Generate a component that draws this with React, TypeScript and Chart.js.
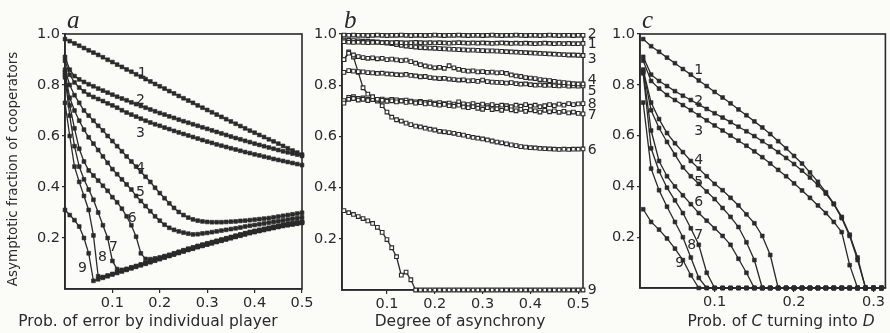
import React, { useEffect, useRef } from "react";
import { Chart, registerables } from "chart.js";
Chart.register(...registerables);

const W = 890;
const H = 333;
const SANS = '"DejaVu Sans", Verdana, sans-serif';
const SERIF = '"Liberation Serif", "DejaVu Serif", serif';
const INK = "#2a2a2a";
const PAPER = "#fbfbf8";

// ---------- Panel a: Prob. of error by individual player ----------
const xA = [0, 0.01, 0.02, 0.03, 0.04, 0.05, 0.06, 0.07, 0.08, 0.09, 0.1, 0.11, 0.12, 0.13, 0.14, 0.15, 0.16, 0.17, 0.18, 0.19, 0.2, 0.21, 0.22, 0.23, 0.24, 0.25, 0.26, 0.27, 0.28, 0.29, 0.3, 0.31, 0.32, 0.33, 0.34, 0.35, 0.36, 0.37, 0.38, 0.39, 0.4, 0.41, 0.42, 0.43, 0.44, 0.45, 0.46, 0.47, 0.48, 0.49, 0.5];
const a1 = [0.98, 0.972, 0.963, 0.954, 0.945, 0.936, 0.927, 0.918, 0.909, 0.899, 0.89, 0.88, 0.871, 0.861, 0.852, 0.842, 0.833, 0.823, 0.814, 0.804, 0.795, 0.786, 0.776, 0.767, 0.757, 0.748, 0.739, 0.73, 0.72, 0.711, 0.702, 0.693, 0.684, 0.675, 0.666, 0.657, 0.648, 0.639, 0.63, 0.621, 0.613, 0.604, 0.596, 0.587, 0.579, 0.57, 0.561, 0.552, 0.543, 0.535, 0.527];
const a2 = [0.91, 0.86, 0.835, 0.822, 0.812, 0.803, 0.795, 0.786, 0.778, 0.77, 0.762, 0.754, 0.747, 0.74, 0.732, 0.725, 0.718, 0.711, 0.704, 0.697, 0.69, 0.684, 0.677, 0.671, 0.664, 0.658, 0.652, 0.646, 0.64, 0.634, 0.628, 0.622, 0.616, 0.61, 0.604, 0.598, 0.592, 0.587, 0.581, 0.576, 0.57, 0.565, 0.56, 0.555, 0.55, 0.545, 0.54, 0.536, 0.531, 0.527, 0.522];
const a3 = [0.895, 0.84, 0.81, 0.79, 0.775, 0.762, 0.753, 0.745, 0.737, 0.728, 0.72, 0.711, 0.701, 0.692, 0.684, 0.676, 0.668, 0.66, 0.653, 0.646, 0.64, 0.633, 0.627, 0.62, 0.614, 0.608, 0.602, 0.596, 0.59, 0.584, 0.578, 0.573, 0.567, 0.562, 0.557, 0.552, 0.547, 0.542, 0.537, 0.533, 0.528, 0.524, 0.519, 0.515, 0.51, 0.506, 0.502, 0.498, 0.494, 0.49, 0.486];
const a4 = [0.86, 0.8, 0.76, 0.73, 0.7, 0.68, 0.66, 0.64, 0.622, 0.6, 0.58, 0.56, 0.54, 0.52, 0.5, 0.48, 0.46, 0.44, 0.42, 0.397, 0.376, 0.356, 0.336, 0.318, 0.302, 0.29, 0.28, 0.273, 0.268, 0.265, 0.263, 0.262, 0.262, 0.262, 0.263, 0.264, 0.265, 0.267, 0.268, 0.27, 0.272, 0.274, 0.276, 0.278, 0.281, 0.284, 0.287, 0.29, 0.293, 0.296, 0.299];
const a5 = [0.85, 0.75, 0.7, 0.66, 0.625, 0.595, 0.57, 0.545, 0.52, 0.495, 0.47, 0.45, 0.43, 0.41, 0.39, 0.365, 0.345, 0.325, 0.305, 0.285, 0.268, 0.252, 0.24, 0.232, 0.226, 0.221, 0.217, 0.214, 0.215, 0.218, 0.22, 0.223, 0.226, 0.229, 0.232, 0.235, 0.238, 0.241, 0.245, 0.248, 0.251, 0.254, 0.257, 0.26, 0.263, 0.266, 0.269, 0.272, 0.275, 0.278, 0.281];
const a6 = [0.84, 0.72, 0.63, 0.55, 0.5, 0.465, 0.445, 0.425, 0.405, 0.385, 0.36, 0.34, 0.315, 0.285, 0.25, 0.205, 0.14, 0.118, 0.117, 0.12, 0.124, 0.129, 0.134, 0.14, 0.146, 0.152, 0.158, 0.163, 0.169, 0.174, 0.179, 0.184, 0.189, 0.194, 0.199, 0.204, 0.209, 0.214, 0.219, 0.224, 0.228, 0.232, 0.236, 0.24, 0.244, 0.248, 0.252, 0.255, 0.258, 0.261, 0.264];
const a7 = [0.83, 0.68, 0.56, 0.48, 0.43, 0.39, 0.35, 0.3, 0.25, 0.2, 0.11, 0.078, 0.075, 0.079, 0.085, 0.09, 0.096, 0.102, 0.108, 0.114, 0.12, 0.126, 0.132, 0.138, 0.144, 0.15, 0.156, 0.161, 0.167, 0.172, 0.177, 0.182, 0.187, 0.192, 0.197, 0.202, 0.207, 0.212, 0.217, 0.222, 0.226, 0.23, 0.234, 0.238, 0.242, 0.246, 0.25, 0.253, 0.256, 0.259, 0.262];
const a8 = [0.73, 0.6, 0.48, 0.42, 0.365, 0.31, 0.21, 0.05, 0.047, 0.053, 0.059, 0.065, 0.071, 0.077, 0.083, 0.089, 0.095, 0.101, 0.107, 0.113, 0.119, 0.125, 0.131, 0.137, 0.143, 0.149, 0.155, 0.16, 0.166, 0.171, 0.176, 0.181, 0.186, 0.191, 0.196, 0.201, 0.206, 0.211, 0.216, 0.221, 0.225, 0.229, 0.233, 0.237, 0.241, 0.245, 0.249, 0.252, 0.255, 0.258, 0.261];
const a9 = [0.31, 0.29, 0.27, 0.245, 0.2, 0.14, 0.032, 0.038, 0.044, 0.05, 0.057, 0.063, 0.069, 0.075, 0.081, 0.087, 0.093, 0.099, 0.105, 0.111, 0.117, 0.123, 0.129, 0.135, 0.141, 0.147, 0.153, 0.158, 0.164, 0.169, 0.174, 0.179, 0.184, 0.189, 0.194, 0.199, 0.204, 0.209, 0.214, 0.219, 0.223, 0.227, 0.231, 0.235, 0.239, 0.243, 0.247, 0.25, 0.253, 0.256, 0.259];
const aTicks = [0.1, 0.2, 0.3, 0.4, 0.5];
const aLabelText = ["1", "2", "3", "4", "5", "6", "7", "8", "9"];
const aLabelX = [0.163, 0.159, 0.159, 0.159, 0.159, 0.142, 0.102, 0.079, 0.037];
const aLabelY = [0.847, 0.741, 0.612, 0.475, 0.38, 0.278, 0.165, 0.125, 0.082];

// ---------- Panel b: Degree of asynchrony ----------
const xB = [0.01, 0.02, 0.03, 0.04, 0.05, 0.06, 0.07, 0.08, 0.09, 0.1, 0.11, 0.12, 0.13, 0.14, 0.15, 0.16, 0.17, 0.18, 0.19, 0.2, 0.21, 0.22, 0.23, 0.24, 0.25, 0.26, 0.27, 0.28, 0.29, 0.3, 0.31, 0.32, 0.33, 0.34, 0.35, 0.36, 0.37, 0.38, 0.39, 0.4, 0.41, 0.42, 0.43, 0.44, 0.45, 0.46, 0.47, 0.48, 0.49, 0.5, 0.51];
const b1 = [0.97, 0.968, 0.967, 0.968, 0.967, 0.966, 0.967, 0.968, 0.966, 0.967, 0.966, 0.967, 0.966, 0.965, 0.966, 0.967, 0.966, 0.965, 0.966, 0.965, 0.966, 0.965, 0.964, 0.965, 0.966, 0.965, 0.964, 0.965, 0.964, 0.965, 0.964, 0.963, 0.964, 0.965, 0.964, 0.963, 0.964, 0.963, 0.964, 0.963, 0.962, 0.963, 0.964, 0.963, 0.962, 0.963, 0.962, 0.963, 0.962, 0.962, 0.963];
const b2 = [0.996, 0.995, 0.996, 0.995, 0.995, 0.994, 0.995, 0.996, 0.995, 0.994, 0.995, 0.995, 0.996, 0.995, 0.994, 0.995, 0.995, 0.994, 0.995, 0.996, 0.995, 0.994, 0.995, 0.995, 0.996, 0.995, 0.994, 0.995, 0.995, 0.994, 0.995, 0.996, 0.995, 0.994, 0.995, 0.995, 0.996, 0.995, 0.994, 0.995, 0.995, 0.994, 0.995, 0.996, 0.995, 0.994, 0.995, 0.995, 0.994, 0.995, 0.995];
const b3 = [0.976, 0.975, 0.974, 0.973, 0.972, 0.972, 0.97, 0.968, 0.966, 0.964, 0.962, 0.959, 0.956, 0.953, 0.951, 0.949, 0.947, 0.946, 0.945, 0.944, 0.943, 0.942, 0.941, 0.94, 0.939, 0.938, 0.937, 0.937, 0.936, 0.935, 0.934, 0.934, 0.933, 0.932, 0.931, 0.93, 0.929, 0.928, 0.927, 0.926, 0.925, 0.924, 0.923, 0.922, 0.921, 0.92, 0.919, 0.918, 0.918, 0.917, 0.916];
const b4 = [0.9, 0.925, 0.918, 0.912, 0.908, 0.905, 0.907, 0.903, 0.905, 0.9, 0.902, 0.899, 0.896, 0.898, 0.892, 0.886, 0.88, 0.875, 0.872, 0.868, 0.87, 0.866, 0.876, 0.868, 0.862, 0.858, 0.855, 0.856, 0.852, 0.853, 0.85, 0.851, 0.848, 0.849, 0.846, 0.84, 0.836, 0.834, 0.83, 0.828, 0.826, 0.822, 0.82, 0.818, 0.815, 0.812, 0.81, 0.808, 0.806, 0.805, 0.805];
const b5 = [0.85, 0.857, 0.855, 0.853, 0.852, 0.849, 0.848, 0.846, 0.847, 0.844, 0.843, 0.841, 0.84, 0.842, 0.838, 0.836, 0.833, 0.834, 0.83, 0.828, 0.826, 0.827, 0.824, 0.822, 0.82, 0.821, 0.817, 0.818, 0.815, 0.82, 0.814, 0.812, 0.811, 0.81, 0.808, 0.81, 0.806, 0.804, 0.805, 0.802, 0.8, 0.801, 0.799, 0.8, 0.798, 0.797, 0.799, 0.796, 0.797, 0.796, 0.797];
const b6 = [0.9, 0.93, 0.91, 0.85, 0.79, 0.765, 0.755, 0.745, 0.72, 0.695, 0.675, 0.665, 0.66, 0.652, 0.646, 0.64, 0.637, 0.632, 0.628, 0.625, 0.62, 0.618, 0.615, 0.612, 0.608, 0.605, 0.6, 0.596, 0.593, 0.59, 0.586, 0.582, 0.578, 0.575, 0.571, 0.567, 0.564, 0.56, 0.558, 0.556, 0.555, 0.553, 0.552, 0.551, 0.55, 0.549, 0.55, 0.549, 0.55, 0.55, 0.551];
const b7 = [0.73, 0.745, 0.748, 0.742, 0.745, 0.74, 0.744, 0.738, 0.741, 0.737, 0.739, 0.735, 0.738, 0.733, 0.735, 0.73, 0.732, 0.727, 0.729, 0.725, 0.722, 0.725, 0.72, 0.718, 0.722, 0.715, 0.712, 0.716, 0.71, 0.706, 0.712, 0.705, 0.708, 0.702, 0.71, 0.704, 0.7, 0.706, 0.698, 0.704, 0.7, 0.695, 0.702, 0.696, 0.7, 0.694, 0.698, 0.692, 0.695, 0.69, 0.688];
const b8 = [0.74, 0.752, 0.755, 0.748, 0.75, 0.745, 0.748, 0.744, 0.746, 0.742, 0.745, 0.743, 0.74, 0.742, 0.738, 0.735, 0.737, 0.733, 0.735, 0.73, 0.732, 0.728, 0.73, 0.726, 0.735, 0.727, 0.724, 0.728, 0.722, 0.726, 0.72, 0.724, 0.718, 0.722, 0.72, 0.716, 0.722, 0.718, 0.724, 0.718, 0.722, 0.716, 0.72, 0.724, 0.72, 0.726, 0.722, 0.728, 0.724, 0.727, 0.728];
const b9 = [0.31, 0.302, 0.295, 0.287, 0.279, 0.27, 0.26, 0.245, 0.225, 0.197, 0.165, 0.13, 0.058, 0.07, 0.04, 0, 0, 0, 0, 0, 0, 0, 0, 0, 0, 0, 0, 0, 0, 0, 0, 0, 0, 0, 0, 0, 0, 0, 0, 0, 0, 0, 0, 0, 0, 0, 0, 0, 0, 0, 0];
const bTicks = [0.1, 0.2, 0.3, 0.4, 0.5];
const bLabelText = ["2", "1", "3", "4", "5", "8", "7", "6", "9"];
const bLabelX = [0.529, 0.529, 0.529, 0.529, 0.529, 0.529, 0.529, 0.529, 0.529];
const bLabelY = [1.0, 0.961, 0.902, 0.82, 0.777, 0.727, 0.684, 0.547, 0.0];

// ---------- Panel c: Prob. of C turning into D ----------
const xC = [0.01, 0.02, 0.03, 0.04, 0.05, 0.06, 0.07, 0.08, 0.09, 0.1, 0.11, 0.12, 0.13, 0.14, 0.15, 0.16, 0.17, 0.18, 0.19, 0.2, 0.21, 0.22, 0.23, 0.24, 0.25, 0.26, 0.27, 0.28, 0.29, 0.3, 0.31];
const c1 = [0.98, 0.952, 0.93, 0.907, 0.885, 0.862, 0.84, 0.817, 0.795, 0.772, 0.75, 0.727, 0.703, 0.68, 0.656, 0.632, 0.606, 0.578, 0.55, 0.52, 0.49, 0.455, 0.418, 0.377, 0.332, 0.28, 0.21, 0.12, 0, 0, 0];
const c2 = [0.91, 0.84, 0.815, 0.795, 0.775, 0.757, 0.74, 0.722, 0.705, 0.688, 0.671, 0.653, 0.635, 0.617, 0.598, 0.578, 0.557, 0.535, 0.512, 0.488, 0.462, 0.435, 0.405, 0.372, 0.33, 0.275, 0.205, 0.11, 0, 0, 0];
const c3 = [0.895, 0.815, 0.785, 0.76, 0.74, 0.72, 0.7, 0.68, 0.66, 0.64, 0.62, 0.6, 0.58, 0.56, 0.538, 0.515, 0.49, 0.465, 0.44, 0.412, 0.384, 0.355, 0.325, 0.295, 0.26, 0.22, 0.09, 0, 0, 0, 0];
const c4 = [0.86, 0.73, 0.665, 0.61, 0.57, 0.535, 0.5, 0.47, 0.44, 0.41, 0.385, 0.355, 0.325, 0.29, 0.255, 0.205, 0.13, 0, 0, 0, 0, 0, 0, 0, 0, 0, 0, 0, 0, 0, 0];
const c5 = [0.855, 0.7, 0.63, 0.575, 0.525, 0.475, 0.44, 0.41, 0.38, 0.35, 0.315, 0.28, 0.24, 0.18, 0.11, 0, 0, 0, 0, 0, 0, 0, 0, 0, 0, 0, 0, 0, 0, 0, 0];
const c6 = [0.85, 0.62, 0.5, 0.44, 0.4, 0.365, 0.33, 0.295, 0.265, 0.235, 0.205, 0.17, 0.115, 0.06, 0, 0, 0, 0, 0, 0, 0, 0, 0, 0, 0, 0, 0, 0, 0, 0, 0];
const c7 = [0.845, 0.55, 0.46, 0.395, 0.345, 0.295, 0.235, 0.17, 0.06, 0, 0, 0, 0, 0, 0, 0, 0, 0, 0, 0, 0, 0, 0, 0, 0, 0, 0, 0, 0, 0, 0];
const c8 = [0.73, 0.47, 0.385, 0.32, 0.26, 0.2, 0.12, 0.04, 0, 0, 0, 0, 0, 0, 0, 0, 0, 0, 0, 0, 0, 0, 0, 0, 0, 0, 0, 0, 0, 0, 0];
const c9 = [0.31, 0.26, 0.23, 0.195, 0.155, 0.11, 0.05, 0, 0, 0, 0, 0, 0, 0, 0, 0, 0, 0, 0, 0, 0, 0, 0, 0, 0, 0, 0, 0, 0, 0, 0];
const cTicks = [0.1, 0.2, 0.3];
const cLabelText = ["1", "2", "3", "4", "5", "6", "7", "8", "9"];
const cLabelX = [0.08, 0.08, 0.08, 0.08, 0.08, 0.08, 0.08, 0.071, 0.056];
const cLabelY = [0.858, 0.736, 0.618, 0.504, 0.417, 0.339, 0.209, 0.169, 0.098];

const yTicks = [0.2, 0.4, 0.6, 0.8, 1.0];

type Part = { t: string; italic?: boolean };
type PanelCfg = {
  left: number;
  width: number;
  area: { l: number; r: number; t: number; b: number };
  xMin: number;
  xMax: number;
  xTicks: number[];
  xs: number[];
  series: number[][];
  hollow: boolean;
  letter: string;
  title: Part[];
  titleX: number;
  yTitle: boolean;
  labelText: string[];
  labelX: number[];
  labelY: number[];
};

const PANELS: PanelCfg[] = [
  {
    left: 0, width: 320, area: { l: 65, r: 302, t: 34, b: 289 },
    xMin: 0, xMax: 0.5, xTicks: aTicks, xs: xA,
    series: [a1, a2, a3, a4, a5, a6, a7, a8, a9], hollow: false, letter: "a",
    title: [{ t: "Prob. of error by individual player" }], titleX: 148, yTitle: true,
    labelText: aLabelText, labelX: aLabelX, labelY: aLabelY,
  },
  {
    left: 305, width: 295, area: { l: 37, r: 278, t: 34, b: 290 },
    xMin: 0.006, xMax: 0.51, xTicks: bTicks, xs: xB,
    series: [b1, b2, b3, b4, b5, b6, b7, b8, b9], hollow: true, letter: "b",
    title: [{ t: "Degree of asynchrony" }], titleX: 155, yTitle: false,
    labelText: bLabelText, labelX: bLabelX, labelY: bLabelY,
  },
  {
    left: 600, width: 290, area: { l: 40, r: 287, t: 34, b: 288 },
    xMin: 0.006, xMax: 0.315, xTicks: cTicks, xs: xC,
    series: [c1, c2, c3, c4, c5, c6, c7, c8, c9], hollow: false, letter: "c",
    title: [{ t: "Prob. of " }, { t: "C", italic: true }, { t: " turning into " }, { t: "D", italic: true }],
    titleX: 181, yTitle: false,
    labelText: cLabelText, labelX: cLabelX, labelY: cLabelY,
  },
];

function drawRich(ctx: CanvasRenderingContext2D, parts: Part[], cx: number, cy: number, size: number) {
  const fontOf = (p: Part) => `${p.italic ? "italic " : ""}${size}px ${SANS}`;
  let total = 0;
  for (const p of parts) {
    ctx.font = fontOf(p);
    total += ctx.measureText(p.t).width;
  }
  let x = cx - total / 2;
  ctx.textAlign = "left";
  ctx.textBaseline = "middle";
  for (const p of parts) {
    ctx.font = fontOf(p);
    ctx.fillText(p.t, x, cy);
    x += ctx.measureText(p.t).width;
  }
}

function Panel({ cfg }: { cfg: PanelCfg }) {
  const ref = useRef<HTMLCanvasElement | null>(null);
  useEffect(() => {
    const canvas = ref.current;
    if (!canvas) return;
    const { area } = cfg;
    const deco = {
      id: "deco",
      beforeDatasetsDraw(chart: any) {
        const { ctx, chartArea: a } = chart;
        ctx.save();
        ctx.strokeStyle = INK;
        ctx.lineWidth = 1.6;
        ctx.strokeRect(a.left, a.top, a.right - a.left, a.bottom - a.top);
        ctx.restore();
      },
      afterDraw(chart: any) {
        const { ctx, chartArea: a, scales } = chart;
        ctx.save();
        ctx.fillStyle = INK;
        ctx.font = `italic 25px ${SERIF}`;
        ctx.textAlign = "left";
        ctx.textBaseline = "alphabetic";
        ctx.fillText(cfg.letter, a.left + 2, 28);
        ctx.font = `14px ${SANS}`;
        ctx.textAlign = "center";
        ctx.textBaseline = "middle";
        cfg.labelText.forEach((t, i) => {
          const px = scales.x.getPixelForValue(cfg.labelX[i]);
          const py = scales.y.getPixelForValue(cfg.labelY[i]);
          ctx.fillText(t, px, py);
        });
        drawRich(ctx, cfg.title, cfg.titleX, 322, 15.5);
        if (cfg.yTitle) {
          ctx.save();
          ctx.translate(13, 169);
          ctx.rotate(-Math.PI / 2);
          ctx.font = `13.5px ${SANS}`;
          ctx.textAlign = "center";
          ctx.textBaseline = "middle";
          ctx.fillText("Asymptotic fraction of cooperators", 0, 0);
          ctx.restore();
        }
        ctx.restore();
      },
    };
    const datasets = cfg.series.map((ys) => ({
      data: ys.map((y, j) => ({ x: cfg.xs[j], y })),
      borderColor: INK,
      borderWidth: 1.3,
      pointStyle: "rect" as const,
      pointRadius: cfg.hollow ? 2.6 : 2.7,
      pointBackgroundColor: cfg.hollow ? PAPER : INK,
      pointBorderColor: INK,
      pointBorderWidth: cfg.hollow ? 1.1 : 0.6,
      tension: 0,
      clip: false as const,
    }));
    const chart = new Chart(canvas, {
      type: "line",
      data: { datasets },
      plugins: [deco],
      options: {
        responsive: false,
        animation: false,
        events: [],
        layout: {
          padding: { left: 0, right: cfg.width - area.r, top: area.t, bottom: H - area.b - 20 },
        },
        plugins: { legend: { display: false }, tooltip: { enabled: false } },
        scales: {
          x: {
            type: "linear",
            min: cfg.xMin,
            max: cfg.xMax,
            afterBuildTicks: (s: any) => {
              s.ticks = cfg.xTicks.map((v) => ({ value: v }));
            },
            afterFit: (s: any) => {
              s.height = 20;
              s.paddingLeft = 0;
              s.paddingRight = 0;
            },
            grid: { display: true, drawOnChartArea: false, drawTicks: true, tickLength: 4, color: INK, lineWidth: 1.2 },
            border: { display: true, color: INK, width: 1.6 },
            ticks: {
              autoSkip: false,
              maxRotation: 0,
              padding: 2,
              color: INK,
              font: { family: SANS, size: 14.5 },
              callback: (v: any) => String(Number(v).toFixed(1)),
            },
          },
          y: {
            type: "linear",
            min: 0,
            max: 1,
            afterBuildTicks: (s: any) => {
              s.ticks = yTicks.map((v) => ({ value: v }));
            },
            afterFit: (s: any) => {
              s.width = area.l;
              s.paddingTop = 0;
              s.paddingBottom = 0;
            },
            grid: { display: true, drawOnChartArea: false, drawTicks: true, tickLength: 3, color: INK, lineWidth: 1.2 },
            border: { display: true, color: INK, width: 1.6 },
            ticks: {
              autoSkip: false,
              padding: 2,
              color: INK,
              font: { family: SANS, size: 14.5 },
              callback: (v: any) => Number(v).toFixed(1),
            },
          },
        },
      } as any,
    });
    return () => chart.destroy();
  }, [cfg]);
  return (
    <canvas
      ref={ref}
      width={cfg.width}
      height={H}
      style={{ position: "absolute", left: cfg.left, top: 0, width: cfg.width, height: H }}
    />
  );
}

export default function App() {
  return (
    <div style={{ position: "fixed", left: 0, top: 0, width: W, height: H, background: PAPER, overflow: "hidden" }}>
      {PANELS.map((p) => (
        <Panel key={p.letter} cfg={p} />
      ))}
    </div>
  );
}
